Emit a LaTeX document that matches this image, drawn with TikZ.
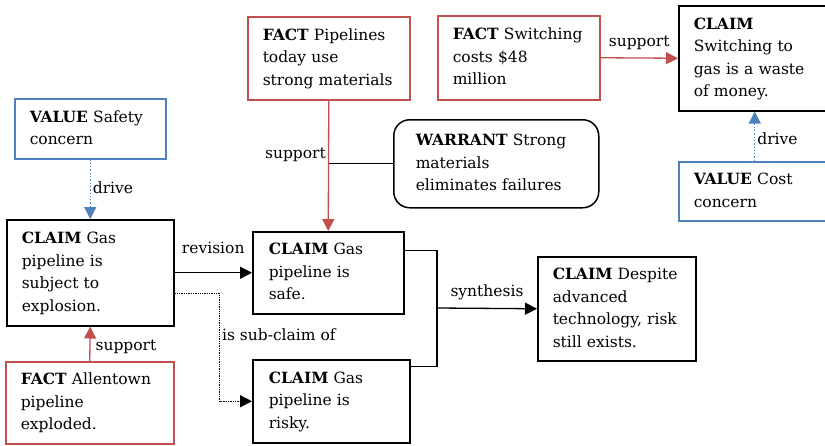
\documentclass[tikz,border=0pt]{standalone}
\usepackage{fontspec}
\setmainfont{DejaVu Serif}
\usetikzlibrary{arrows.meta,calc}
\definecolor{factred}{RGB}{192,80,77}
\definecolor{valblue}{RGB}{79,129,189}
\newcommand{\boxlines}[1]{\begin{tabular}{@{}l@{}}#1\end{tabular}}
\begin{document}
\begin{tikzpicture}[x=1pt,y=-1pt,
  every node/.style={font=\fontsize{15.5}{22.5}\selectfont},
  argbox/.style={draw, line width=1.5pt, anchor=north west, inner ysep=0pt, inner xsep=15pt, align=left},
  claimbox/.style={argbox, draw=black},
  factbox/.style={argbox, draw=factred},
  valuebox/.style={argbox, draw=valblue},
  warrantbox/.style={argbox, draw=black, rounded corners=16pt, inner xsep=22pt},
  tip/.style={-{Triangle[length=12pt,width=12pt]}},
  blackarrow/.style={tip, line width=1.3pt, draw=black},
  redarrow/.style={tip, line width=1.3pt, draw=factred},
  bluearrow/.style={tip, line width=1.3pt, draw=valblue, dotted},
  dotarrow/.style={tip, line width=1.3pt, draw=black, densely dotted},
  plainline/.style={line width=1.3pt, draw=black},
  lbl/.style={inner sep=2pt}
]
\useasboundingbox (0,0) rectangle (825,445);

\node[valuebox, text width=121pt, minimum height=60pt] (safety) at (14,98) {\boxlines{\textbf{VALUE} Safety\\concern}};
\node[claimbox, text width=137pt, minimum height=106pt] (subj) at (6,219) {\boxlines{\textbf{CLAIM} Gas\\pipeline is\\subject to\\explosion.}};
\node[factbox, text width=138pt, minimum height=82pt] (allen) at (5,361) {\boxlines{\textbf{FACT} Allentown\\pipeline\\exploded.}};
\node[factbox, text width=132pt, minimum height=83pt] (pipes) at (247,16) {\boxlines{\textbf{FACT} Pipelines\\today use\\strong materials}};
\node[warrantbox, text width=161pt, minimum height=88pt] (warrant) at (393,119) {\boxlines{\textbf{WARRANT} Strong\\materials\\eliminates failures}};
\node[factbox, text width=132pt, minimum height=84pt] (switch) at (437,15) {\boxlines{\textbf{FACT} Switching\\costs \$48\\million}};
\node[claimbox, text width=122pt, minimum height=105pt] (waste) at (678,5) {\boxlines{\textbf{CLAIM}\\Switching to\\gas is a waste\\of money.}};
\node[valuebox, text width=122pt, minimum height=59pt] (cost) at (678,161) {\boxlines{\textbf{VALUE} Cost\\concern}};
\node[claimbox, text width=119pt, minimum height=82pt, inner xsep=16pt] (safe) at (252,231) {\boxlines{\textbf{CLAIM} Gas\\pipeline is\\safe.}};
\node[claimbox, text width=125pt, minimum height=83pt, inner xsep=16pt] (risky) at (252,359) {\boxlines{\textbf{CLAIM} Gas\\pipeline is\\risky.}};
\node[claimbox, text width=128pt, minimum height=104pt] (despite) at (537,256) {\boxlines{\textbf{CLAIM} Despite\\advanced\\technology, risk\\still exists.}};

\coordinate (junc) at (437,308);

% drive (safety)
\draw[bluearrow] (safety.south) -- node[lbl, right, pos=0.48] {drive} (subj.north);
% support (Allentown)
\draw[redarrow] (allen.north) -- node[lbl, right, pos=0.42, xshift=3pt] {support} (subj.south);
% revision
\draw[blackarrow] (subj.east) -- node[lbl, midway, yshift=25pt] {revision} (safe.west);
% sub-claim
\draw[dotarrow] ([yshift=-21pt]subj.east) -- ++(45,0) |- node[lbl, right, pos=0.19] {is sub-claim of} (risky.west);
% support (pipelines)
\draw[redarrow] (pipes.south) -- node[lbl, left, pos=0.417] {support} (safe.north);
% warrant link
\draw[plainline] (warrant.west) -- (warrant.west -| pipes.south);
% support (switching)
\draw[redarrow] (switch.east) -- node[lbl, midway, yshift=15pt] {support} (waste.west);
% drive (cost)
\draw[bluearrow] (cost.north) -- node[lbl, right, pos=0.45] {drive} (waste.south);
% synthesis
\draw[plainline] ([yshift=22pt]safe.east) -| (junc);
\draw[plainline] ([yshift=34.5pt]risky.east) -| (junc);
\draw[blackarrow] (junc) -- node[lbl, midway, yshift=16pt] {synthesis} (despite.west);
\end{tikzpicture}
\end{document}
